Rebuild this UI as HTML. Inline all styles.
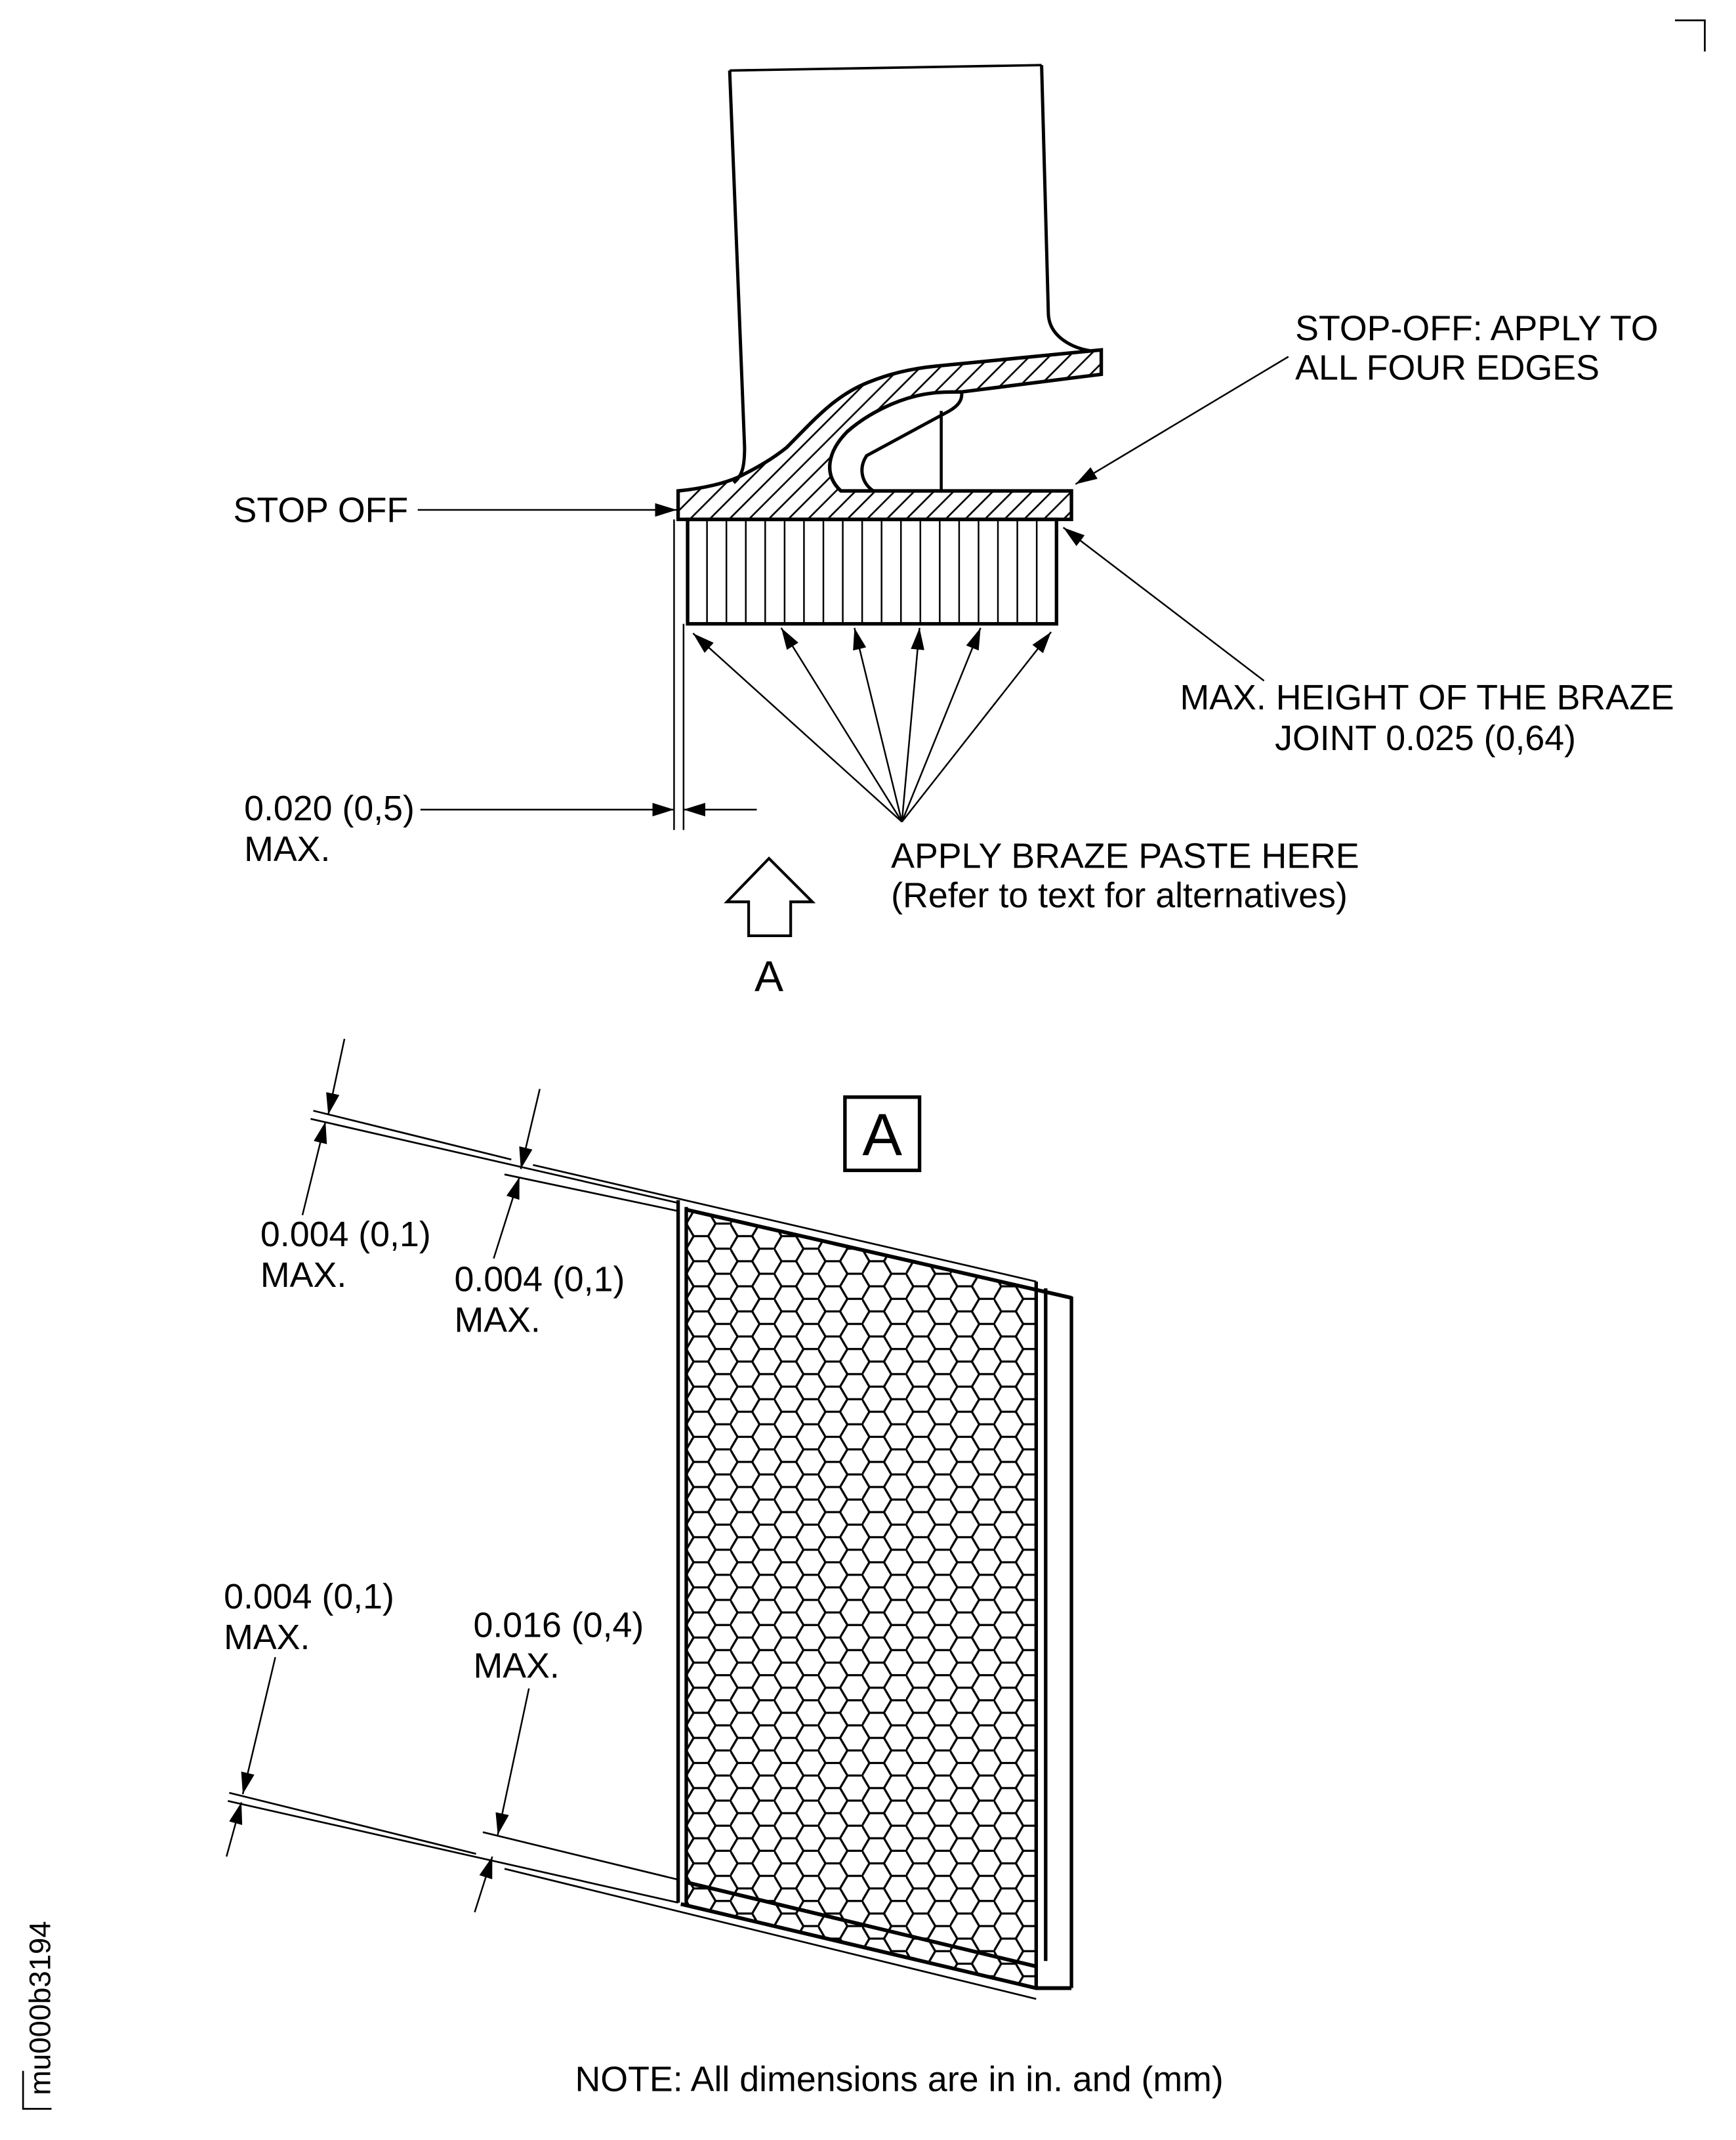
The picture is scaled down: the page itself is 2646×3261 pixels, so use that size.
<!DOCTYPE html>
<html><head><meta charset="utf-8">
<style>
html,body{margin:0;padding:0;background:#fff;}
svg{display:block;}
text{font-family:"Liberation Sans",Arial,sans-serif;fill:#000;}
</style></head>
<body>
<svg width="2646" height="3261" viewBox="0 0 1280 1578" preserveAspectRatio="none" xmlns="http://www.w3.org/2000/svg">
<defs>
<marker id="ah" viewBox="0 0 16 10" refX="16" refY="5" markerWidth="16" markerHeight="10" markerUnits="userSpaceOnUse" orient="auto">
<path d="M0,0 L16,5 L0,10 Z" fill="#000"/>
</marker>
<pattern id="hatch" patternUnits="userSpaceOnUse" width="14.5" height="14.5" x="500" y="0">
<path d="M0,14.5 L14.5,0 M-3,3 L3,-3 M11.5,17.5 L17.5,11.5" stroke="#000" stroke-width="1.3"/>
</pattern>
<pattern id="hex" patternUnits="userSpaceOnUse" width="32.4" height="18.5" x="506" y="893">
<path d="M0,9.25 L5.4,0 L16.2,0 L21.6,9.25 L16.2,18.5 L5.4,18.5 Z M21.6,9.25 L32.4,9.25" fill="none" stroke="#000" stroke-width="1.6"/>
</pattern>
</defs>

<path d="M1235,15 L1257,15 L1257,38" fill="none" stroke="#000" stroke-width="1.3"/>

<path d="M538,52 L768,48" fill="none" stroke="#000" stroke-width="1.8"/>
<path d="M538,52 L549,330 C549,345 547,351 541,356" fill="none" stroke="#000" stroke-width="2.4"/>
<path d="M768,48 L773,232 C774,248 790,257 806,259" fill="none" stroke="#000" stroke-width="2.4"/>

<path d="M500,362 C520,360 535,356 544,352 C560,344 570,338 580,330 C600,310 615,292 640,282 C655,276 670,272 690,270 L812,258 L812,276 L709,289 C700,289 690,289 680,291 C660,295 640,305 625,318 C610,333 607,350 620,362 L790,362 L790,383 L500,383 Z" fill="url(#hatch)" stroke="#000" stroke-width="2.6" stroke-linejoin="miter"/>
<path d="M709,289 C710,296 705,300 700,303 L639,336 C633,345 635,356 644,362" fill="none" stroke="#000" stroke-width="2.4"/>
<path d="M694,303 L694,362" stroke="#000" stroke-width="2.2"/>

<rect x="507" y="383" width="272" height="77" fill="none" stroke="#000" stroke-width="2.6"/>
<g stroke="#000" stroke-width="1.2">
<path d="M521.3,383V460M535.6,383V460M549.9,383V460M564.2,383V460M578.5,383V460M592.8,383V460M607.1,383V460M621.4,383V460M635.7,383V460M650,383V460M664.3,383V460M678.6,383V460M692.9,383V460M707.2,383V460M721.5,383V460M735.8,383V460M750.1,383V460M764.4,383V460"/>
</g>

<path d="M497,383 V612 M504,460 V612" stroke="#000" stroke-width="1.2"/>

<g stroke="#000" stroke-width="1.2" fill="none" marker-end="url(#ah)">
<line x1="308" y1="376" x2="499" y2="376"/>
<line x1="950" y1="263" x2="793" y2="357"/>
<line x1="932" y1="502" x2="784" y2="389"/>
<line x1="310" y1="597" x2="497" y2="597"/>
<line x1="558" y1="597" x2="504" y2="597"/>
<line x1="665" y1="606" x2="511" y2="467"/>
<line x1="665" y1="606" x2="576" y2="463"/>
<line x1="665" y1="606" x2="630" y2="463"/>
<line x1="665" y1="606" x2="678" y2="463"/>
<line x1="665" y1="606" x2="723" y2="463"/>
<line x1="665" y1="606" x2="775" y2="466"/>
</g>

<path d="M567,633 L599,665 L583,665 L583,690 L552,690 L552,665 L536,665 Z" fill="none" stroke="#000" stroke-width="2"/>
<text x="567" y="731" font-size="32" text-anchor="middle">A</text>

<g font-size="26">
<text x="955" y="251">STOP-OFF: APPLY TO</text>
<text x="955" y="280">ALL FOUR EDGES</text>
<text x="172" y="385">STOP OFF</text>
<text x="870" y="523">MAX. HEIGHT OF THE BRAZE</text>
<text x="940" y="553">JOINT 0.025 (0,64)</text>
<text x="180" y="605">0.020 (0,5)</text>
<text x="180" y="635">MAX.</text>
<text x="657" y="640">APPLY BRAZE PASTE HERE</text>
<text x="657" y="669">(Refer to text for alternatives)</text>
</g>

<rect x="623" y="809" width="55" height="54" fill="none" stroke="#000" stroke-width="2.6"/>
<text x="650.5" y="852" font-size="44" text-anchor="middle">A</text>

<path d="M506,891 L764,950 L764,1466 L506,1404 Z" fill="url(#hex)"/>
<g stroke="#000" fill="none">
<path d="M500,885 V1403 M506,890 V1404" stroke-width="2.6"/>
<path d="M764,945 V1466 M771,950 V1446 M790,956 V1466" stroke-width="2.6"/>
<path d="M506,892 L790,957" stroke-width="2.8"/>
<path d="M506,1388 L764,1450" stroke-width="2.8"/>
<path d="M502,1404 L764,1466 L790,1466" stroke-width="2.8"/>
</g>
<g stroke="#000" stroke-width="1.3" fill="none">
<line x1="231" y1="819" x2="377" y2="855"/>
<line x1="229" y1="825" x2="500" y2="887"/>
<line x1="393" y1="859" x2="764" y2="945"/>
<line x1="372" y1="866" x2="500" y2="893"/>
<line x1="169" y1="1322" x2="351" y2="1367"/>
<line x1="168" y1="1328" x2="500" y2="1403"/>
<line x1="356" y1="1351" x2="500" y2="1386"/>
<line x1="372" y1="1378" x2="764" y2="1474"/>
</g>
<g stroke="#000" stroke-width="1.2" fill="none" marker-end="url(#ah)">
<line x1="254" y1="766" x2="242" y2="822"/>
<line x1="223" y1="896" x2="240" y2="827"/>
<line x1="398" y1="803" x2="384" y2="862"/>
<line x1="364" y1="928" x2="383" y2="868"/>
<line x1="203" y1="1222" x2="179" y2="1323"/>
<line x1="167" y1="1369" x2="178" y2="1329"/>
<line x1="390" y1="1245" x2="367" y2="1353"/>
<line x1="350" y1="1410" x2="363" y2="1369"/>
</g>

<g font-size="26">
<text x="192" y="919">0.004 (0,1)</text>
<text x="192" y="949">MAX.</text>
<text x="335" y="952">0.004 (0,1)</text>
<text x="335" y="982">MAX.</text>
<text x="165" y="1186">0.004 (0,1)</text>
<text x="165" y="1216">MAX.</text>
<text x="349" y="1207">0.016 (0,4)</text>
<text x="349" y="1237">MAX.</text>
<text x="424" y="1542">NOTE: All dimensions are in in. and (mm)</text>
</g>

<path d="M17,1527 V1555 H38" fill="none" stroke="#000" stroke-width="1.3"/>
<text x="0" y="0" font-size="22" transform="translate(37,1545) rotate(-90)">mu000b3194</text>
</svg>
</body></html>
